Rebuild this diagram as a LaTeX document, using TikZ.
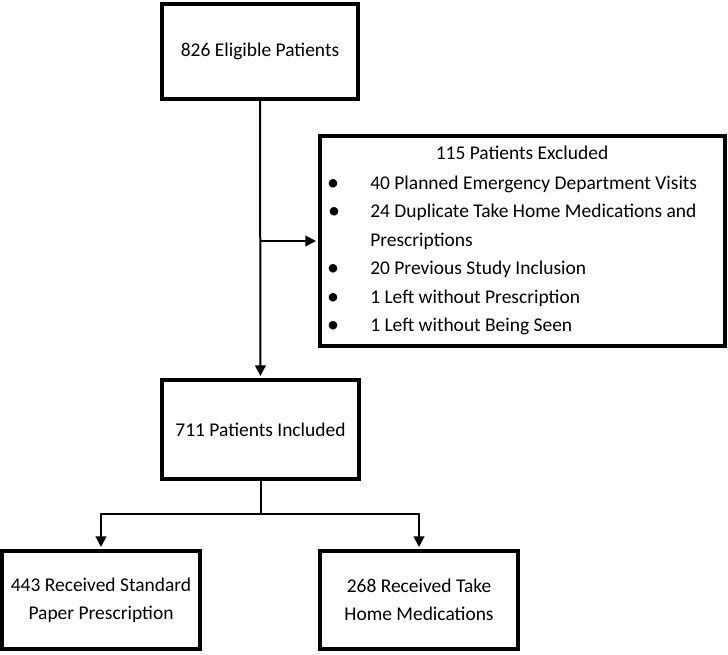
\documentclass[tikz,border=0pt]{standalone}
\usepackage{fontspec}
\setmainfont{Carlito}
\usetikzlibrary{arrows.meta, positioning}

\tikzset{
  flowbox/.style={draw, line width=3pt, align=center, inner sep=0pt,
    font=\fontsize{14.6}{21}\selectfont},
  flowline/.style={line width=1.5pt},
  flowarrow/.style={flowline, -{Triangle[length=8pt,width=8pt]}, shorten >=1.5pt},
  listtext/.style={anchor=west, inner sep=0pt, text height=10pt, text depth=3.5pt,
    font=\fontsize{14.6}{18}\selectfont},
  listdot/.style={inner sep=0pt, font=\fontsize{18}{18}\selectfont},
}

\begin{document}
\begin{tikzpicture}[x=0.75pt, y=-0.75pt]
    \useasboundingbox (0,0) rectangle (728,654);

    % Start of the flow
    \node[flowbox, minimum width=147pt, minimum height=71.25pt] (eligible) at (260,51.5) {826 Eligible Patients};

    % Exclusion box with its reasons
    \node[flowbox, minimum width=303.75pt, minimum height=157.5pt] (excluded) at (522.5,241) {};
    \node[listtext, anchor=center] (exctitle) at (522,155) {115 Patients Excluded};
    \node[listdot] (dot1) at (333,185) {\textbullet};
    \node[listtext] (reason1) at (370,185) {40 Planned Emergency Department Visits};
    \node[listdot] (dot2) at (334,213.5) {\textbullet};
    \node[listtext] (reason2) at (370,213.5) {24 Duplicate Take Home Medications and};
    \node[listtext] (reason2b) at (370,242) {Prescriptions};
    \node[listdot] (dot3) at (333,270.5) {\textbullet};
    \node[listtext] (reason3) at (370,270.5) {20 Previous Study Inclusion};
    \node[listdot] (dot4) at (333,299) {\textbullet};
    \node[listtext] (reason4) at (370,299) {1 Left without Prescription};
    \node[listdot] (dot5) at (333,327.5) {\textbullet};
    \node[listtext] (reason5) at (370,327.5) {1 Left without Being Seen};

    % Patients kept in the study
    \node[flowbox, minimum width=147.75pt, minimum height=74.25pt] (included) at (260.5,429.5) {711 Patients Included};

    % The two groups
    \node[flowbox, minimum width=148.5pt, minimum height=73.5pt] (paper) at (101,600) {443 Received Standard\\Paper Prescription};
    \node[flowbox, minimum width=148.5pt, minimum height=73.5pt] (takehome) at (419,600) {268 Received Take\\Home Medications};

    % Connectors
    \draw[flowarrow] (eligible) -- (included);
    \draw[flowarrow] (eligible.south |- excluded.west) -- (excluded.west);
    \coordinate (split) at (260.5,514);
    \draw[flowline] (included) -- (split);
    \draw[flowarrow] (split) -| (paper);
    \draw[flowarrow] (split) -| (takehome);
\end{tikzpicture}
\end{document}
